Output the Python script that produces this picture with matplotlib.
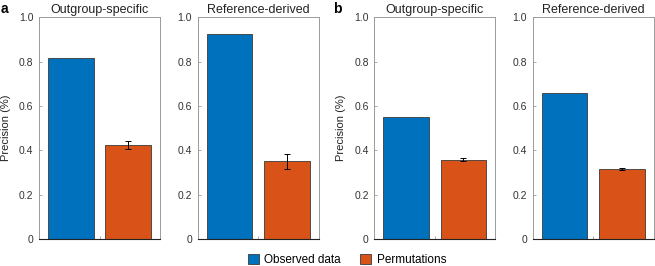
import matplotlib.pyplot as plt
from matplotlib.patches import Patch

plt.rcParams['font.family'] = ['Liberation Sans', 'DejaVu Sans']

# data
panels = ['a', 'a', 'b', 'b']
titles = ['Outgroup-specific', 'Reference-derived', 'Outgroup-specific', 'Reference-derived']
observed = [0.815, 0.926, 0.549, 0.660]
permuted = [0.425, 0.350, 0.358, 0.317]
permuted_err = [0.018, 0.035, 0.008, 0.005]
series_names = ['Observed data', 'Permutations']

blue = '#0072BD'
orange = '#D95319'
edge = '#3a3a3a'
frame = '#9a9a9a'

W, H = 655, 266
fig = plt.figure(figsize=(W / 100, H / 100), dpi=100)
lefts = [39, 197.7, 374.3, 532.7]
ax_w = 121
bottom_px, top_px = 239, 17.3

for i in range(4):
    ax = fig.add_axes([lefts[i] / W, 1 - bottom_px / H, ax_w / W, (bottom_px - top_px) / H])
    ax.bar([1], [observed[i]], width=0.8, color=blue, edgecolor=edge, linewidth=0.6)
    ax.bar([2], [permuted[i]], width=0.8, color=orange, edgecolor=edge, linewidth=0.6,
           yerr=[permuted_err[i]], error_kw=dict(ecolor='black', elinewidth=0.7, capsize=2.2, capthick=0.7))
    ax.set_xlim(0.44, 2.56)
    ax.set_ylim(0, 1.0)
    ax.set_yticks([0, 0.2, 0.4, 0.6, 0.8, 1.0])
    ax.set_yticklabels(['0', '0.2', '0.4', '0.6', '0.8', '1.0'])
    ax.set_xticks([1.5])
    ax.set_xticklabels([])
    ax.tick_params(axis='y', direction='in', length=2, width=0.6, color=frame, labelsize=7.5,
                   labelcolor='#333333', pad=4)
    ax.tick_params(axis='x', direction='in', length=2, width=0.6, color=frame)
    for s in ['left', 'top', 'right']:
        ax.spines[s].set_color(frame)
        ax.spines[s].set_linewidth(0.7)
    ax.spines['bottom'].set_color('#222222')
    ax.spines['bottom'].set_linewidth(0.8)
    ax.set_title(titles[i], fontsize=9, color='#222222', pad=3)
    if i % 2 == 0:
        ax.set_ylabel('Precision (%)', fontsize=8, color='#222222', labelpad=6)

fig.text(1 / W, 1 - 9 / H, 'a', fontsize=10, fontweight='bold', va='center', ha='left')
fig.text(333 / W, 1 - 9 / H, 'b', fontsize=10, fontweight='bold', va='center', ha='left')

handles = [Patch(facecolor=blue, edgecolor=edge, linewidth=0.6),
           Patch(facecolor=orange, edgecolor=edge, linewidth=0.6)]
fig.legend(handles, series_names, loc='center', bbox_to_anchor=(347 / W, 1 - 260 / H),
           ncol=2, frameon=False, fontsize=8.5, handlelength=0.9, handleheight=0.9,
           handletextpad=0.5, columnspacing=1.6, borderpad=0)

fig.savefig('out.png', dpi=100)
